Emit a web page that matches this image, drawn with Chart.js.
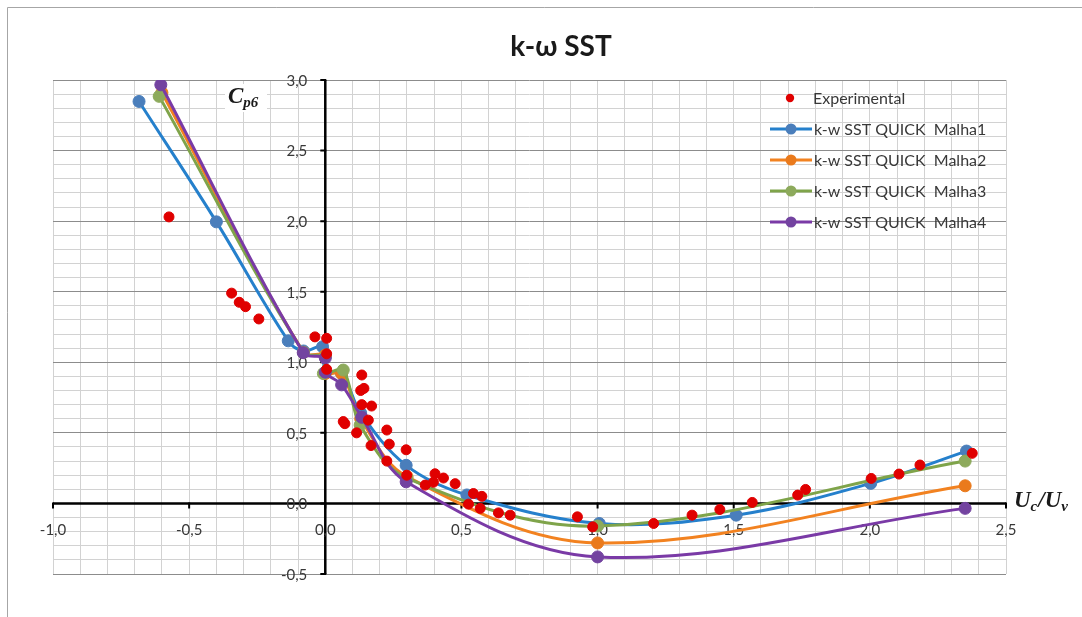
<!DOCTYPE html>
<html>
<head>
<meta charset="utf-8">
<title>k-ω SST</title>
<script src="https://cdn.jsdelivr.net/npm/chart.js@4.4.1/dist/chart.umd.min.js"></script>
<style>
  html, body { margin: 0; padding: 0; background: #fff; }
  canvas { display: block; }
</style>
</head>
<body>
<canvas id="chart" width="1082" height="617"></canvas>
<script>
// Experimental pressure coefficient Cp6 against Uc/Uv
const expX = [-0.574, -0.344, -0.316, -0.293, -0.244, -0.038, 0.005, 0.005, 0.005,
  0.066, 0.072, 0.115, 0.134, 0.130, 0.142, 0.134, 0.170, 0.158, 0.168, 0.226, 0.235,
  0.226, 0.297, 0.299, 0.367, 0.397, 0.403, 0.434, 0.477, 0.544, 0.575, 0.526, 0.569,
  0.636, 0.679, 0.926, 0.982, 1.206, 1.347, 1.449, 1.568, 1.735, 1.764, 2.005, 2.107,
  2.184, 2.376];
const expY = [2.03, 1.49, 1.425, 1.394, 1.307, 1.18, 1.17, 1.06, 0.95,
  0.58, 0.565, 0.50, 0.91, 0.80, 0.815, 0.70, 0.69, 0.59, 0.41, 0.52, 0.42,
  0.30, 0.38, 0.20, 0.13, 0.15, 0.21, 0.18, 0.14, 0.07, 0.05, -0.005, -0.035,
  -0.067, -0.083, -0.095, -0.166, -0.142, -0.083, -0.043, 0.007, 0.059, 0.099, 0.177, 0.208,
  0.272, 0.355];

// k-w SST QUICK results, mesh 1 to mesh 4
const m1X = [-0.684, -0.40, -0.136, -0.08, -0.01, 0.0, 0.06, 0.13, 0.297, 0.52, 1.006, 1.509, 2.003, 2.355];
const m1Y = [2.848, 1.995, 1.152, 1.08, 1.11, 0.93, 0.92, 0.64, 0.27, 0.06, -0.142, -0.083, 0.142, 0.371];

const m2X = [-0.60, -0.08, 0.0, 0.0, 0.06, 0.13, 0.30, 1.0, 2.35];
const m2Y = [2.91, 1.07, 1.05, 0.92, 0.92, 0.60, 0.19, -0.28, 0.125];

const m3X = [-0.61, -0.08, 0.0, -0.007, 0.066, 0.128, 0.30, 1.0, 2.35];
const m3Y = [2.884, 1.07, 1.04, 0.92, 0.945, 0.555, 0.18, -0.16, 0.30];

const m4X = [-0.604, -0.081, 0.0, 0.0, 0.06, 0.134, 0.297, 1.0, 2.35];
const m4Y = [2.966, 1.068, 1.03, 0.93, 0.84, 0.61, 0.153, -0.379, -0.035];

const seriesNames = ['Experimental', 'k-w SST QUICK  Malha1', 'k-w SST QUICK  Malha2',
  'k-w SST QUICK  Malha3', 'k-w SST QUICK  Malha4'];

const xTickValues = [-1, -0.5, 0, 0.5, 1, 1.5, 2, 2.5];
const xTickLabels = ['-1,0', '-0,5', '0,0', '0,5', '1,0', '1,5', '2,0', '2,5'];
const yTickValues = [-0.5, 0, 0.5, 1, 1.5, 2, 2.5, 3];
const yTickLabels = ['-0,5', '0,0', '0,5', '1,0', '1,5', '2,0', '2,5', '3,0'];

const chartTitle = 'k-ω SST';

const toPoints = (xs, ys) => xs.map((v, i) => ({ x: v, y: ys[i] }));
const isMajor = v => Math.abs(v * 2 - Math.round(v * 2)) < 1e-6;

const TEXT = '#383838';
const TICK_FONT = '15px Lato, "Open Sans", sans-serif';
const LEGEND_FONT = '16px Lato, "Open Sans", sans-serif';

function modelSet(i, xs, ys, line, marker, order) {
  return {
    label: seriesNames[i],
    data: toPoints(xs, ys),
    showLine: true,
    borderColor: line,
    borderWidth: 3,
    tension: 0.35,
    pointRadius: 6,
    pointBackgroundColor: marker,
    pointBorderColor: marker,
    pointBorderWidth: 1,
    order: order
  };
}

// Draws frame, axes through the origin, tick labels, axis titles, legend and title
const decorations = {
  id: 'decorations',
  beforeDraw(chart) {
    const c = chart.ctx;
    c.save();
    c.fillStyle = '#fff';
    c.fillRect(0, 0, chart.width, chart.height);
    c.strokeStyle = '#a6a6a6';
    c.lineWidth = 1;
    c.beginPath();
    c.moveTo(7.5, chart.height);
    c.lineTo(7.5, 7.5);
    c.lineTo(chart.width, 7.5);
    c.stroke();
    c.restore();
  },
  beforeDatasetsDraw(chart) {
    const { ctx: c, scales: { x, y } } = chart;
    const x0 = x.getPixelForValue(0);
    const y0 = y.getPixelForValue(0);
    c.save();

    // backdrop for the vertical axis title
    c.fillStyle = '#fff';
    c.fillRect(225, 84, 42, 28);

    // axis lines
    c.strokeStyle = '#000';
    c.lineWidth = 2.5;
    c.beginPath();
    c.moveTo(x.getPixelForValue(xTickValues[0]), y0);
    c.lineTo(x.getPixelForValue(xTickValues[xTickValues.length - 1]), y0);
    c.moveTo(x0, y.getPixelForValue(yTickValues[0]));
    c.lineTo(x0, y.getPixelForValue(yTickValues[yTickValues.length - 1]));
    c.stroke();

    // tick marks
    c.lineWidth = 2;
    c.beginPath();
    xTickValues.forEach(v => {
      const px = x.getPixelForValue(v);
      c.moveTo(px, y0 - 1);
      c.lineTo(px, y0 + 5);
    });
    yTickValues.forEach(v => {
      const py = y.getPixelForValue(v);
      c.moveTo(x0 + 1, py);
      c.lineTo(x0 - 5, py);
    });
    c.stroke();

    // tick labels
    c.fillStyle = TEXT;
    c.font = TICK_FONT;
    c.textAlign = 'center';
    c.textBaseline = 'middle';
    xTickValues.forEach((v, i) => {
      c.fillText(xTickLabels[i], x.getPixelForValue(v), y0 + 27);
    });
    c.textAlign = 'right';
    yTickValues.forEach((v, i) => {
      c.fillText(yTickLabels[i], x0 - 18, y.getPixelForValue(v) + 1);
    });

    // axis titles
    drawSubscripted(c, [['C', false], ['p6', true]], 228, 103);
    drawSubscripted(c, [['U', false], ['c', true], ['/', false], ['U', false], ['v', true]], 1014, 507);
    c.restore();
  },
  afterDraw(chart) {
    const c = chart.ctx;
    c.save();

    // legend
    const rowY = [98, 129, 160, 191, 222];
    chart.data.datasets.forEach((ds, i) => {
      const ry = rowY[i];
      if (ds.showLine) {
        c.strokeStyle = ds.borderColor;
        c.lineWidth = 3;
        c.beginPath();
        c.moveTo(770, ry);
        c.lineTo(812, ry);
        c.stroke();
        c.fillStyle = ds.pointBackgroundColor;
        c.beginPath();
        c.arc(791, ry, 5.5, 0, Math.PI * 2);
        c.fill();
      } else {
        c.fillStyle = ds.pointBackgroundColor;
        c.beginPath();
        c.arc(790, ry, 4.2, 0, Math.PI * 2);
        c.fill();
      }
      c.fillStyle = TEXT;
      c.font = LEGEND_FONT;
      c.textAlign = 'left';
      c.textBaseline = 'middle';
      c.fillText(ds.label, i === 0 ? 813 : 814, ry + 1);
    });

    // title
    c.fillStyle = '#1a1a1a';
    c.font = 'bold 28px Lato, "Open Sans", sans-serif';
    c.textAlign = 'center';
    c.textBaseline = 'alphabetic';
    c.fillText(chartTitle, 561, 56);
    c.restore();
  }
};

function drawSubscripted(c, parts, x, baseline) {
  c.fillStyle = '#1a1a1a';
  c.textAlign = 'left';
  c.textBaseline = 'alphabetic';
  let px = x;
  parts.forEach(([txt, sub]) => {
    c.font = sub ? 'bold italic 15px "Liberation Serif", "DejaVu Serif", serif'
                 : 'bold italic 23px "Liberation Serif", "DejaVu Serif", serif';
    c.fillText(txt, px, sub ? baseline + 4 : baseline);
    px += c.measureText(txt).width + (sub ? 1 : 0);
  });
}

new Chart(document.getElementById('chart'), {
  type: 'scatter',
  data: {
    datasets: [
      {
        label: seriesNames[0],
        data: toPoints(expX, expY),
        showLine: false,
        pointRadius: 5,
        pointBackgroundColor: '#E00000',
        pointBorderColor: '#E00000',
        pointBorderWidth: 1,
        order: 0
      },
      modelSet(1, m1X, m1Y, '#2580CC', '#4A7EBB', 4),
      modelSet(2, m2X, m2Y, '#F28220', '#EA7A1C', 3),
      modelSet(3, m3X, m3Y, '#7FA44A', '#8DAA5C', 2),
      modelSet(4, m4X, m4Y, '#7A3AA6', '#7343A0', 1)
    ]
  },
  options: {
    responsive: false,
    animation: false,
    devicePixelRatio: 1,
    layout: { padding: { left: 53, right: 76, top: 80, bottom: 43 } },
    plugins: {
      legend: { display: false },
      tooltip: { enabled: false },
      title: { display: false }
    },
    scales: {
      x: {
        type: 'linear',
        min: -1,
        max: 2.5,
        ticks: { display: false, stepSize: 0.1, autoSkip: false, maxTicksLimit: 100 },
        grid: { color: '#d2d2d2', lineWidth: 1, drawTicks: false, tickLength: 0 },
        border: { display: false }
      },
      y: {
        type: 'linear',
        min: -0.5,
        max: 3,
        ticks: { display: false, stepSize: 0.1, autoSkip: false, maxTicksLimit: 100 },
        grid: {
          color: ctx => (ctx.tick && isMajor(ctx.tick.value)) ? '#8c8c8c' : '#d2d2d2',
          lineWidth: 1,
          drawTicks: false,
          tickLength: 0
        },
        border: { display: false }
      }
    }
  },
  plugins: [decorations]
});
</script>
</body>
</html>
